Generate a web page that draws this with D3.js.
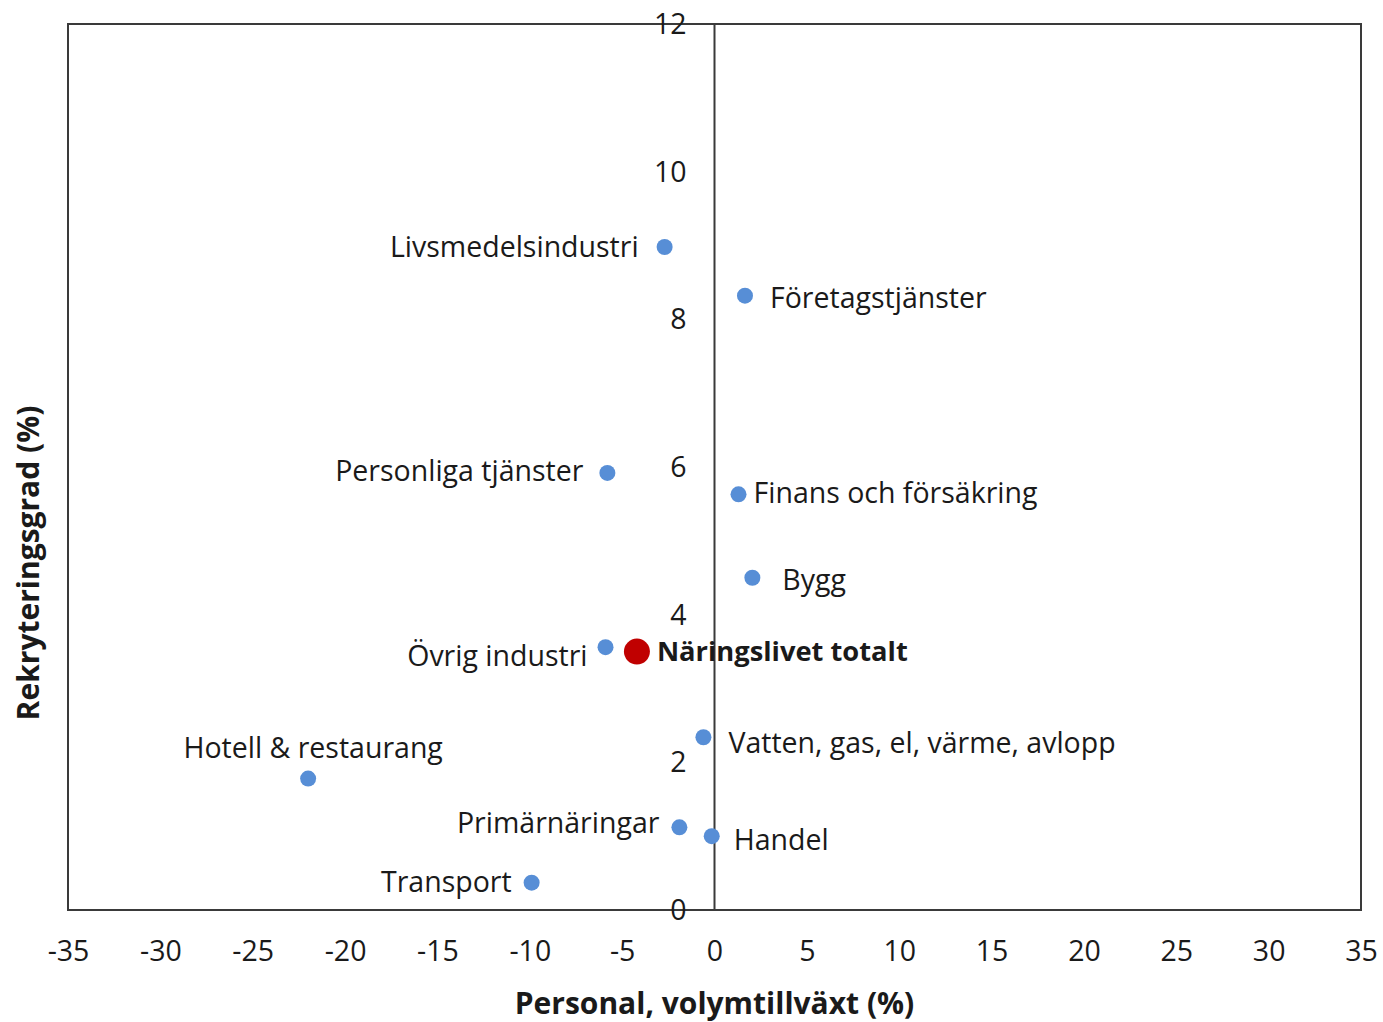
<!DOCTYPE html>
<html><head><meta charset="utf-8">
<script src="https://cdn.jsdelivr.net/npm/d3@7"></script>
<style>
html,body{margin:0;padding:0;background:#fff;}
svg text{font-family:"Open Sans",Lato,sans-serif;fill:#1a1a1a;}
</style></head>
<body>
<script>
const sectors = ["Livsmedelsindustri","Företagstjänster","Personliga tjänster","Finans och försäkring","Bygg","Övrig industri","Vatten, gas, el, värme, avlopp","Hotell & restaurang","Primärnäringar","Handel","Transport"];
const growth = [-2.7, 1.65, -5.8, 1.3, 2.05, -5.9, -0.6, -22.0, -1.9, -0.15, -9.9];
const recruit = [8.98, 8.32, 5.92, 5.63, 4.5, 3.56, 2.34, 1.78, 1.12, 1.0, 0.37];
const totalLabel = "Näringslivet totalt";
const totalGrowth = -4.2;
const totalRecruit = 3.5;
const xTicks = [-35,-30,-25,-20,-15,-10,-5,0,5,10,15,20,25,30,35];
const yTicks = [0,2,4,6,8,10,12];
const xTitle = "Personal, volymtillväxt (%)";
const yTitle = "Rekryteringsgrad (%)";

// label placement (style, not data)
const labelPlace = [
  {anchor:"end", dx:-26, dy:0},
  {anchor:"start", dx:25, dy:2},
  {anchor:"end", dx:-24, dy:-2},
  {anchor:"start", dx:15, dy:-1},
  {anchor:"start", dx:30, dy:2},
  {anchor:"end", dx:-18, dy:9},
  {anchor:"start", dx:25, dy:6},
  {anchor:"middle", dx:5, dy:-31},
  {anchor:"end", dx:-20, dy:-4},
  {anchor:"start", dx:22, dy:4},
  {anchor:"end", dx:-20, dy:-1}
];

const FS = 28.5;
const W = 1383, H = 1022;
const m = {left:68, right:1361, top:24, bottom:910};
const svg = d3.select("body").append("svg").attr("width",W).attr("height",H);

const x = d3.scaleLinear().domain([-35,35]).range([m.left, m.right]);
const y = d3.scaleLinear().domain([0,12]).range([m.bottom, m.top]);

svg.append("rect").attr("x",m.left).attr("y",m.top).attr("width",m.right-m.left).attr("height",m.bottom-m.top)
  .attr("fill","none").attr("stroke","#3a3a3a").attr("stroke-width",2);

svg.append("line").attr("x1",x(0)).attr("x2",x(0)).attr("y1",m.top).attr("y2",m.bottom)
  .attr("stroke","#3a3a3a").attr("stroke-width",2);

const xAxis = d3.axisBottom(x).tickValues(xTicks).tickSize(0).tickPadding(0).tickFormat(d => String(d));
const gx = svg.append("g").attr("transform",`translate(0,${m.bottom})`).call(xAxis);
gx.select(".domain").remove();
gx.selectAll("text").attr("font-size",FS).attr("dy","0.35em").attr("y",41).style("font-family","'Open Sans', Lato, sans-serif").attr("fill","#1a1a1a");

const yAxis = d3.axisLeft(y).tickValues(yTicks).tickSize(0).tickPadding(0).tickFormat(d => String(d));
const gy = svg.append("g").attr("transform",`translate(${x(0)-28},0)`).call(yAxis);
gy.select(".domain").remove();
gy.selectAll("text").attr("font-size",FS).attr("dy","0.33em").attr("x",0).style("font-family","'Open Sans', Lato, sans-serif").attr("fill","#1a1a1a");

const pts = sectors.map((s,i)=>({name:s, gx:growth[i], ry:recruit[i], p:labelPlace[i]}));
svg.append("g").selectAll("circle").data(pts).join("circle")
  .attr("cx",d=>x(d.gx)).attr("cy",d=>y(d.ry)).attr("r",8).attr("fill","#578ED6");

svg.append("g").selectAll("text").data(pts).join("text")
  .attr("x",d=>x(d.gx)+d.p.dx).attr("y",d=>y(d.ry)+d.p.dy)
  .attr("text-anchor",d=>d.p.anchor).attr("dy","0.35em")
  .attr("font-size",FS).text(d=>d.name);

svg.append("circle").attr("cx",x(totalGrowth)).attr("cy",y(totalRecruit)).attr("r",13).attr("fill","#C00000");
svg.append("text").attr("x",x(totalGrowth)+20).attr("y",y(totalRecruit)).attr("dy","0.35em")
  .attr("font-size",27.3).attr("font-weight","bold").text(totalLabel);

svg.append("text").attr("x",x(0)).attr("y",1003).attr("dy","0.35em").attr("text-anchor","middle")
  .attr("font-size",30).attr("font-weight","bold").text(xTitle);
svg.append("text").attr("transform",`translate(28,${563}) rotate(-90)`).attr("dy","0.35em").attr("text-anchor","middle")
  .attr("font-size",30).attr("font-weight","bold").text(yTitle);
</script>
</body></html>
